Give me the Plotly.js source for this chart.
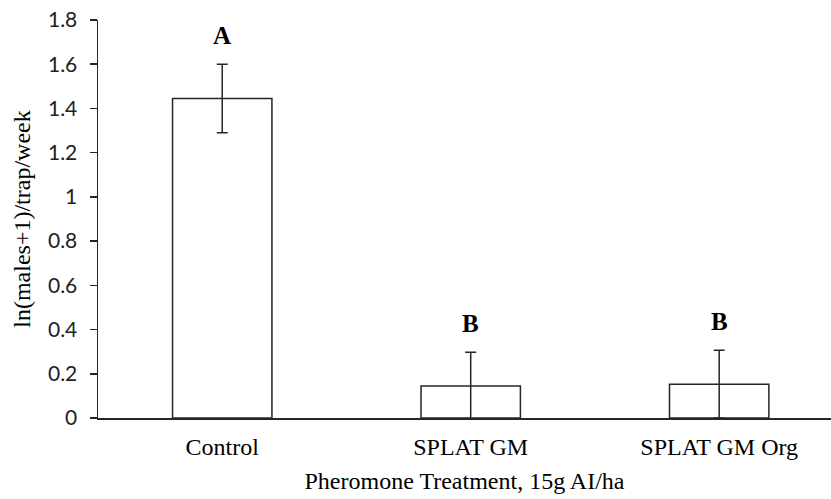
<!DOCTYPE html>
<html>
<head>
<meta charset="utf-8">
<script src="https://cdn.plot.ly/plotly-3.0.1.min.js"></script>
<style>html,body{margin:0;padding:0;background:#fff;}#chart{width:831px;height:499px;}</style>
</head>
<body>
<div id="chart"></div>
<script>
const categories = ["Control", "SPLAT GM", "SPLAT GM Org"];
const means = [1.445, 0.145, 0.153];
const errors = [0.155, 0.152, 0.153];
const letters = ["A", "B", "B"];
const yTickVals = [0, 0.2, 0.4, 0.6, 0.8, 1, 1.2, 1.4, 1.6, 1.8];
const yTickText = ["0", "0.2", "0.4", "0.6", "0.8", "1", "1.2", "1.4", "1.6", "1.8"];

const serif = "Liberation Serif, Times New Roman, serif";
const sans = "Lato, Carlito, Calibri, sans-serif";

const trace = {
  type: "bar",
  x: categories,
  y: means,
  width: 0.4,
  marker: {color: "#ffffff", line: {color: "#262626", width: 1.5}},
  error_y: {type: "data", array: errors, visible: true, color: "#262626", thickness: 1.5, width: 5.5},
  hoverinfo: "none"
};

const annotations = categories.map((c, i) => ({
  x: c, y: means[i] + errors[i], xref: "x", yref: "y",
  text: "<b>" + letters[i] + "</b>", showarrow: false,
  yanchor: "bottom", yshift: 13,
  font: {family: serif, size: 25, color: "#000"}
}));

const layout = {
  width: 831, height: 499,
  margin: {l: 98, r: 0, t: 20, b: 81},
  paper_bgcolor: "#fff", plot_bgcolor: "#fff",
  showlegend: false,
  xaxis: {
    type: "category",
    range: [-0.5, 2.45],
    showline: true, linecolor: "#262626", linewidth: 1.5,
    ticks: "", showgrid: false, zeroline: false,
    ticklabelstandoff: 7,
    tickfont: {family: serif, size: 24, color: "#000"},
    title: {text: "Pheromone Treatment, 15g AI/ha", font: {family: serif, size: 24, color: "#000"}, standoff: 13}
  },
  yaxis: {
    range: [0, 1.8],
    tickvals: yTickVals, ticktext: yTickText,
    showline: true, linecolor: "#262626", linewidth: 1.5,
    ticks: "outside", ticklen: 7, tickwidth: 1.5, tickcolor: "#262626",
    showgrid: false, zeroline: false,
    ticklabelstandoff: 8,
    tickfont: {family: sans, size: 21, color: "#222"},
    title: {text: "ln(males+1)/trap/week", font: {family: serif, size: 24, color: "#000"}, standoff: 10}
  },
  annotations: annotations
};

Plotly.newPlot("chart", [trace], layout, {staticPlot: true, displayModeBar: false});
</script>
</body>
</html>
